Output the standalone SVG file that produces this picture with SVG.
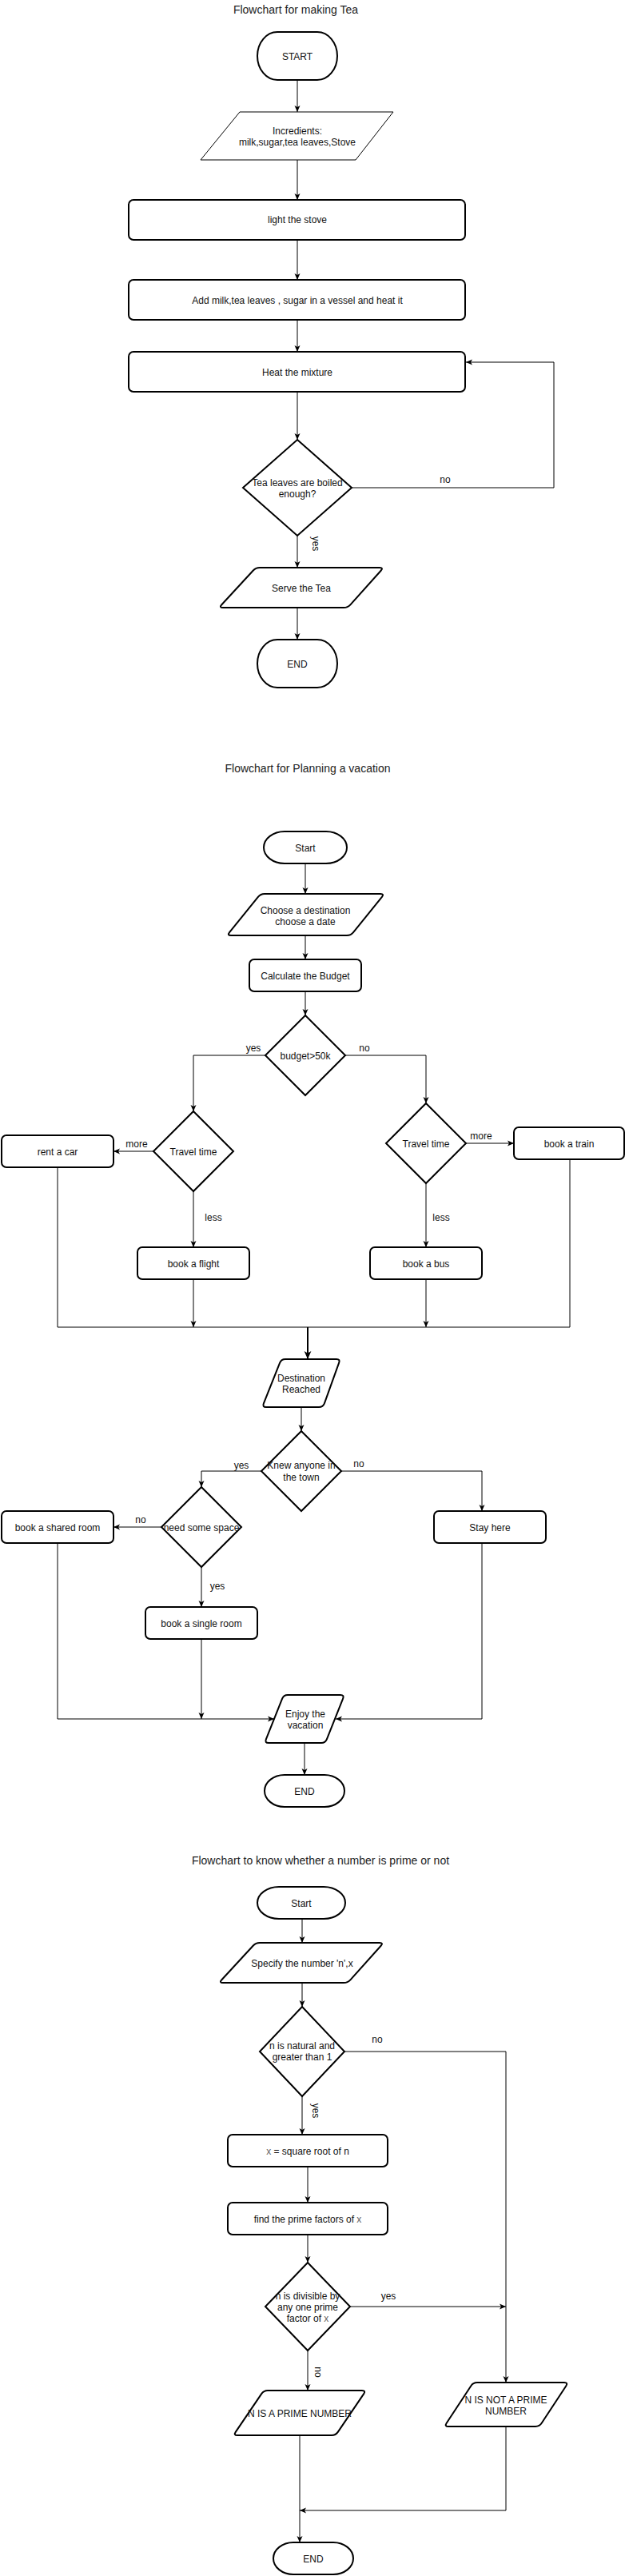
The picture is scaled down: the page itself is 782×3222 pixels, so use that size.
<svg xmlns="http://www.w3.org/2000/svg" width="782" height="3222" viewBox="0 0 782 3222">
<style>
text{font-family:"Liberation Sans",Arial,Helvetica,sans-serif;font-size:12px;text-anchor:middle;fill:#111}
.h{font-size:14px;fill:#222}
.n{fill:#fff;stroke:#000;stroke-width:2}
.thin{stroke-width:1}
.c{fill:none;stroke:#000;stroke-width:1}
.c2{fill:none;stroke:#000;stroke-width:2}
.g{fill:#666}
</style>
<defs>
<marker id="a" viewBox="0 0 8 8" refX="8" refY="4" markerWidth="8" markerHeight="8" markerUnits="userSpaceOnUse" orient="auto">
<path d="M0,0.5 L8,4 L0,7.5 L2,4 Z" fill="#000"/>
</marker>
<marker id="a2" viewBox="0 0 8 8" refX="8" refY="4" markerWidth="10" markerHeight="10" markerUnits="userSpaceOnUse" orient="auto">
<path d="M0,0.5 L8,4 L0,7.5 L2,4 Z" fill="#000"/>
</marker>
</defs>
<rect width="782" height="3222" fill="#fff"/>

<!-- Titles -->
<text class="h" x="370" y="17">Flowchart for making Tea</text>
<text class="h" x="385" y="966">Flowchart for Planning a vacation</text>
<text class="h" x="401" y="2332">Flowchart to know whether a number is prime or not</text>

<!-- Connectors -->
<g id="connectors">
<!-- tea -->
<line class="c" x1="372" y1="100" x2="372" y2="140" marker-end="url(#a)"/>
<line class="c" x1="372" y1="200" x2="372" y2="250" marker-end="url(#a)"/>
<line class="c" x1="372" y1="300" x2="372" y2="350" marker-end="url(#a)"/>
<line class="c" x1="372" y1="400" x2="372" y2="440" marker-end="url(#a)"/>
<line class="c" x1="372" y1="490" x2="372" y2="550" marker-end="url(#a)"/>
<polyline class="c" points="440,610 693,610 693,453 583,453" marker-end="url(#a)"/>
<text x="557" y="604">no</text>
<line class="c" x1="372" y1="670" x2="372" y2="710" marker-end="url(#a)"/>
<text x="0" y="0" transform="translate(391,680) rotate(90)">yes</text>
<line class="c" x1="372" y1="760" x2="372" y2="800" marker-end="url(#a)"/>

<!-- vacation -->
<line class="c" x1="382" y1="1080" x2="382" y2="1118" marker-end="url(#a)"/>
<line class="c" x1="382" y1="1170" x2="382" y2="1200" marker-end="url(#a)"/>
<line class="c" x1="382" y1="1240" x2="382" y2="1270" marker-end="url(#a)"/>
<polyline class="c" points="332,1320 242,1320 242,1390" marker-end="url(#a)"/>
<text x="317" y="1315">yes</text>
<polyline class="c" points="432,1320 533,1320 533,1380" marker-end="url(#a)"/>
<text x="456" y="1315">no</text>
<line class="c" x1="192" y1="1440" x2="142" y2="1440" marker-end="url(#a)"/>
<text x="171" y="1435">more</text>
<line class="c" x1="583" y1="1430" x2="643" y2="1430" marker-end="url(#a)"/>
<text x="602" y="1425">more</text>
<line class="c" x1="242" y1="1490" x2="242" y2="1560" marker-end="url(#a)"/>
<text x="267" y="1527">less</text>
<line class="c" x1="533" y1="1480" x2="533" y2="1560" marker-end="url(#a)"/>
<text x="552" y="1527">less</text>
<line class="c" x1="242" y1="1600" x2="242" y2="1660" marker-end="url(#a)"/>
<line class="c" x1="533" y1="1600" x2="533" y2="1660" marker-end="url(#a)"/>
<polyline class="c" points="72,1460 72,1660 713,1660 713,1450"/>
<line class="c2" x1="385" y1="1660" x2="385" y2="1700" marker-end="url(#a2)"/>
<line class="c" x1="377" y1="1760" x2="377" y2="1790" marker-end="url(#a)"/>
<polyline class="c" points="327,1840 252,1840 252,1860" marker-end="url(#a)"/>
<text x="302" y="1837">yes</text>
<polyline class="c" points="427,1840 603,1840 603,1890" marker-end="url(#a)"/>
<text x="449" y="1835">no</text>
<line class="c" x1="202" y1="1910" x2="142" y2="1910" marker-end="url(#a)"/>
<text x="176" y="1905">no</text>
<line class="c" x1="252" y1="1960" x2="252" y2="2010" marker-end="url(#a)"/>
<text x="272" y="1988">yes</text>
<polyline class="c" points="72,1930 72,2150 343,2150" marker-end="url(#a)"/>
<line class="c" x1="252" y1="2050" x2="252" y2="2150" marker-end="url(#a)"/>
<polyline class="c" points="603,1930 603,2150 420,2150" marker-end="url(#a)"/>
<line class="c" x1="381" y1="2180" x2="381" y2="2220" marker-end="url(#a)"/>

<!-- prime -->
<line class="c" x1="378" y1="2400" x2="378" y2="2430" marker-end="url(#a)"/>
<line class="c" x1="378" y1="2480" x2="378" y2="2510" marker-end="url(#a)"/>
<polyline class="c" points="431,2566 633,2566 633,2980" marker-end="url(#a)"/>
<text x="472" y="2555">no</text>
<line class="c" x1="378" y1="2622" x2="378" y2="2670" marker-end="url(#a)"/>
<text x="0" y="0" transform="translate(391,2640) rotate(90)">yes</text>
<line class="c" x1="385" y1="2710" x2="385" y2="2755" marker-end="url(#a)"/>
<line class="c" x1="385" y1="2795" x2="385" y2="2830" marker-end="url(#a)"/>
<line class="c" x1="438" y1="2885" x2="633" y2="2885" marker-end="url(#a)"/>
<text x="486" y="2876">yes</text>
<line class="c" x1="385" y1="2940" x2="385" y2="2990" marker-end="url(#a)"/>
<text x="0" y="0" transform="translate(394,2967) rotate(90)">no</text>
<polyline class="c" points="633,3035 633,3140 375,3140" marker-end="url(#a)"/>
<line class="c" x1="375" y1="3046" x2="375" y2="3180" marker-end="url(#a)"/>
</g>

<!-- Tea nodes -->
<g id="tea-start"><rect class="n" x="322" y="40" width="100" height="60" rx="25" ry="30"/><text x="372" y="75">START</text></g>
<g id="tea-ingredients"><polygon class="n thin" points="300,140 492,140 445,200 251,200"/><text x="372" y="168">Incredients:</text><text x="372" y="182">milk,sugar,tea leaves,Stove</text></g>
<g id="tea-light"><rect class="n" x="161" y="250" width="421" height="50" rx="6"/><text x="372" y="279">light the stove</text></g>
<g id="tea-add"><rect class="n" x="161" y="350" width="421" height="50" rx="6"/><text x="372" y="380">Add milk,tea leaves , sugar in a vessel and heat it</text></g>
<g id="tea-heat"><rect class="n" x="161" y="440" width="421" height="50" rx="6"/><text x="372" y="470">Heat the mixture</text></g>
<g id="tea-check"><polygon class="n" points="372,550 440,610 372,670 304,610"/><text x="372" y="608">Tea leaves are boiled</text><text x="372" y="622">enough?</text></g>
<g id="tea-serve"><path class="n" d="M325,710 L475,710 Q480,710 476.6,713.7 L438.4,756.3 Q435,760 430,760 L279,760 Q274,760 277.4,756.3 L316.6,713.7 Q320,710 325,710 Z"/><text x="377" y="740">Serve the Tea</text></g>
<g id="tea-end"><rect class="n" x="322" y="800" width="100" height="60" rx="25" ry="30"/><text x="372" y="835">END</text></g>

<!-- Vacation nodes -->
<g id="vac-start"><rect class="n" x="330" y="1040" width="104" height="40" rx="26" ry="20"/><text x="382" y="1065">Start</text></g>
<g id="vac-choose"><path class="n" d="M331,1118 L476,1118 Q481,1118 477.9,1121.9 L442.1,1166.1 Q439,1170 434,1170 L289,1170 Q284,1170 287.1,1166.1 L322.9,1121.9 Q326,1118 331,1118 Z"/><text x="382" y="1143">Choose a destination</text><text x="382" y="1157">choose a date</text></g>
<g id="vac-budget"><rect class="n" x="312" y="1200" width="140" height="40" rx="6"/><text x="382" y="1225">Calculate the Budget</text></g>
<g id="vac-dec-budget"><polygon class="n" points="382,1270 432,1320 382,1370 332,1320"/><text x="382" y="1325">budget&gt;50k</text></g>
<g id="vac-tt-left"><polygon class="n" points="242,1390 292,1440 242,1490 192,1440"/><text x="242" y="1445">Travel time</text></g>
<g id="vac-car"><rect class="n" x="2" y="1420" width="140" height="40" rx="6"/><text x="72" y="1445">rent a car</text></g>
<g id="vac-tt-right"><polygon class="n" points="533,1380 583,1430 533,1480 483,1430"/><text x="533" y="1435">Travel time</text></g>
<g id="vac-train"><rect class="n" x="643" y="1410" width="138" height="40" rx="6"/><text x="712" y="1435">book a train</text></g>
<g id="vac-flight"><rect class="n" x="172" y="1560" width="140" height="40" rx="6"/><text x="242" y="1585">book a flight</text></g>
<g id="vac-bus"><rect class="n" x="463" y="1560" width="140" height="40" rx="6"/><text x="533" y="1585">book a bus</text></g>
<g id="vac-reached"><path class="n" d="M357,1700 L421,1700 Q426,1700 424.1,1704.6 L405.9,1755.4 Q404,1760 399,1760 L333,1760 Q328,1760 329.9,1755.4 L350.1,1704.6 Q352,1700 357,1700 Z"/><text x="377" y="1728">Destination</text><text x="377" y="1742">Reached</text></g>
<g id="vac-knew"><polygon class="n" points="377,1790 427,1840 377,1890 327,1840"/><text x="377" y="1837">Knew anyone in</text><text x="377" y="1852">the town</text></g>
<g id="vac-space"><polygon class="n" points="252,1860 302,1910 252,1960 202,1910"/><text x="252" y="1915">need some space</text></g>
<g id="vac-shared"><rect class="n" x="2" y="1890" width="140" height="40" rx="6"/><text x="72" y="1915">book a shared room</text></g>
<g id="vac-stay"><rect class="n" x="543" y="1890" width="140" height="40" rx="6"/><text x="613" y="1915">Stay here</text></g>
<g id="vac-single"><rect class="n" x="182" y="2010" width="140" height="40" rx="6"/><text x="252" y="2035">book a single room</text></g>
<g id="vac-enjoy"><path class="n" d="M360,2120 L426,2120 Q431,2120 429.1,2124.6 L408.9,2175.4 Q407,2180 402,2180 L336,2180 Q331,2180 332.9,2175.4 L353.1,2124.6 Q355,2120 360,2120 Z"/><text x="382" y="2148">Enjoy the</text><text x="382" y="2162">vacation</text></g>
<g id="vac-end"><rect class="n" x="331" y="2220" width="100" height="40" rx="25" ry="20"/><text x="381" y="2245">END</text></g>

<!-- Prime nodes -->
<g id="pr-start"><rect class="n" x="322" y="2360" width="110" height="40" rx="27" ry="20"/><text x="377" y="2385">Start</text></g>
<g id="pr-specify"><path class="n" d="M325,2430 L475,2430 Q480,2430 476.6,2433.7 L438.4,2476.3 Q435,2480 430,2480 L279,2480 Q274,2480 277.4,2476.3 L316.6,2433.7 Q320,2430 325,2430 Z"/><text x="378" y="2460">Specify the number 'n',x</text></g>
<g id="pr-natural"><polygon class="n" points="378,2510 431,2566 378,2622 325,2566"/><text x="378" y="2563">n is natural and</text><text x="378" y="2577">greater than 1</text></g>
<g id="pr-sqrt"><rect class="n" x="285" y="2670" width="200" height="40" rx="6"/><text x="385" y="2695"><tspan class="g">x</tspan> = square root of n</text></g>
<g id="pr-factors"><rect class="n" x="285" y="2755" width="200" height="40" rx="6"/><text x="385" y="2780">find the prime factors of <tspan class="g">x</tspan></text></g>
<g id="pr-divisible"><polygon class="n" points="385,2830 438,2885 385,2940 332,2885"/><text x="385" y="2876">n is divisible by</text><text x="385" y="2890">any one prime</text><text x="385" y="2904">factor of <tspan class="g">x</tspan></text></g>
<g id="pr-prime"><path class="n" d="M335,2990 L453,2990 Q458,2990 455.2,2994.1 L422.8,3041.9 Q420,3046 415,3046 L297,3046 Q292,3046 294.8,3041.9 L327.2,2994.1 Q330,2990 335,2990 Z"/><text x="375" y="3023">N IS A PRIME NUMBER</text></g>
<g id="pr-notprime"><path class="n" d="M597,2980 L706,2980 Q711,2980 708.3,2984.2 L677.7,3030.8 Q675,3035 670,3035 L561,3035 Q556,3035 558.7,3030.8 L589.3,2984.2 Q592,2980 597,2980 Z"/><text x="633" y="3006">N IS NOT A PRIME</text><text x="633" y="3020">NUMBER</text></g>
<g id="pr-end"><rect class="n" x="342" y="3180" width="100" height="40" rx="25" ry="20"/><text x="392" y="3205">END</text></g>
</svg>
